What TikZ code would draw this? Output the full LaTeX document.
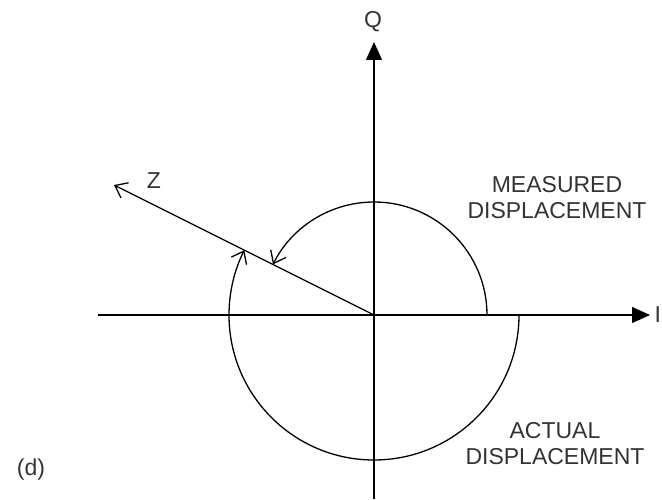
\documentclass[tikz,border=0pt]{standalone}
\usepackage{fontspec}
\setmainfont{Liberation Sans}
\usetikzlibrary{arrows.meta,calc}
\begin{document}
\begin{tikzpicture}[x=1pt,y=1pt, line width=1.3pt,
  lbl/.style={font=\fontsize{23}{26}\selectfont, align=center, inner sep=0pt, text=black!80},
  openarrow/.style={-{Straight Barb[length=11pt,width=17pt,line width=1.3pt]}},
  solidarrow/.style={-{Triangle[length=18pt,width=16pt]}}]
\useasboundingbox (0,0) rectangle (662,499);
\coordinate (O) at (374,184);
\coordinate (Ileft) at (98,184);
\coordinate (Iright) at (650,184);
\coordinate (Qtop) at (374,457);
\coordinate (Qbot) at (374,0);
\coordinate (Ztip) at (114,314);
\coordinate (Mstart) at (487,184);
\coordinate (Astart) at (519,184);
\draw[solidarrow] (Ileft) -- (Iright);
\draw[solidarrow] (Qbot) -- (Qtop);
\node[lbl] (Q) at (373,477) {Q};
\node[lbl, anchor=west] (I) at (654,184) {I};
\draw[openarrow] (O) -- (Ztip);
\node[lbl] (Z) at (154,318) {Z};
\draw[openarrow] (Mstart) arc[start angle=0, end angle=153.43, radius=113pt];
\draw[openarrow] (Astart) arc[start angle=0, end angle=-206.57, radius=145pt];
\node[lbl] (meas) at (557,301) {MEASURED\\DISPLACEMENT};
\node[lbl] (act) at (555,55) {ACTUAL\\DISPLACEMENT};
\node[lbl] (d) at (31,29) {(d)};
\end{tikzpicture}
\end{document}
